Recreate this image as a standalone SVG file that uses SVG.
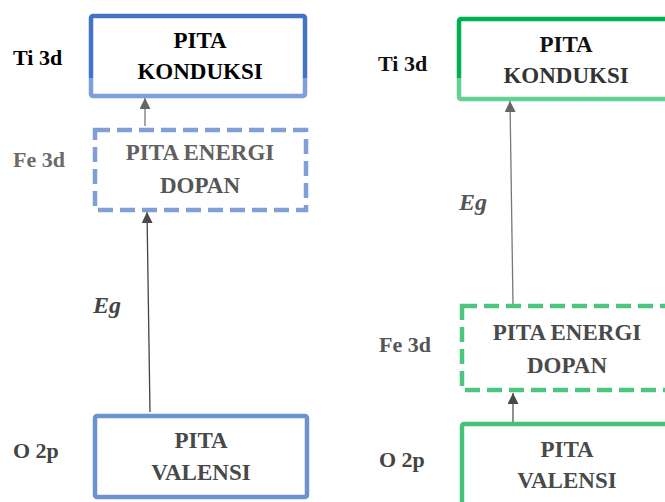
<svg xmlns="http://www.w3.org/2000/svg" width="665" height="502" viewBox="0 0 665 502">
<style>
.t{font-family:'Liberation Serif',serif;font-weight:bold;font-size:23px;text-anchor:middle}
.l{font-family:'Liberation Serif',serif;font-weight:bold;font-size:22px}
.eg{font-family:'Liberation Serif',serif;font-weight:bold;font-style:italic;font-size:24px}
.box{fill:none;stroke-width:4.5}
.dash{fill:none;stroke-width:4.5;stroke-dasharray:15 7}
.c{fill:none;stroke-width:1.3}
</style>
<defs>
<linearGradient id="gb" gradientUnits="userSpaceOnUse" x1="0" y1="14" x2="0" y2="98">
<stop offset="0.76" stop-color="#4472c4"/><stop offset="0.76" stop-color="#7e9fd9"/>
</linearGradient>
<linearGradient id="gg" gradientUnits="userSpaceOnUse" x1="0" y1="17" x2="0" y2="101">
<stop offset="0.73" stop-color="#00b050"/><stop offset="0.73" stop-color="#66cf96"/>
</linearGradient>
<marker id="ah" markerUnits="userSpaceOnUse" markerWidth="12" markerHeight="12" refX="11" refY="5.5" orient="auto">
<path d="M0,0 L11,5.5 L0,11 Z" fill="#666"/>
</marker>
<marker id="ahd" markerUnits="userSpaceOnUse" markerWidth="12" markerHeight="12" refX="11" refY="5.5" orient="auto">
<path d="M0,0 L11,5.5 L0,11 Z" fill="#4a4a4a"/>
</marker>
</defs>
<rect width="665" height="502" fill="#ffffff"/>

<g id="connectors">
<line class="c" x1="145" y1="126" x2="145" y2="98" stroke="#777" marker-end="url(#ah)"/>
<line class="c" x1="150" y1="412" x2="147" y2="212" stroke="#444" marker-end="url(#ahd)"/>
<line class="c" x1="513" y1="304" x2="510" y2="101" stroke="#777" marker-end="url(#ah)"/>
<line class="c" x1="513" y1="422" x2="513" y2="393" stroke="#555" marker-end="url(#ahd)"/>
</g>

<g id="left-conduction">
<rect class="box" x="91" y="16" width="214" height="80" rx="2" stroke="url(#gb)"/>
<text class="t" font-family="Liberation Serif" style="font-family:'Liberation Serif',serif" x="200" y="48" fill="#000">PITA</text>
<text class="t" font-family="Liberation Serif" style="font-family:'Liberation Serif',serif" x="200" y="79" fill="#000">KONDUKSI</text>
</g>
<g id="left-dopan">
<rect class="dash" x="95" y="130" width="211" height="80" stroke="#7f9fd6"/>
<text class="t" font-family="Liberation Serif" style="font-family:'Liberation Serif',serif" x="200" y="160" fill="#606060">PITA ENERGI</text>
<text class="t" font-family="Liberation Serif" style="font-family:'Liberation Serif',serif" x="200" y="193" fill="#555">DOPAN</text>
</g>
<g id="left-valence">
<rect class="box" x="95" y="416" width="212" height="81" rx="2" stroke="#6d92cf"/>
<text class="t" font-family="Liberation Serif" style="font-family:'Liberation Serif',serif" x="201" y="448" fill="#484848">PITA</text>
<text class="t" font-family="Liberation Serif" style="font-family:'Liberation Serif',serif" x="201" y="480" fill="#484848">VALENSI</text>
</g>
<g id="left-labels">
<text class="l" font-family="Liberation Serif" style="font-family:'Liberation Serif',serif" x="13" y="65" fill="#000">Ti 3d</text>
<text class="l" font-family="Liberation Serif" style="font-family:'Liberation Serif',serif" x="13" y="167" fill="#6a6a6a">Fe 3d</text>
<text class="l" font-family="Liberation Serif" style="font-family:'Liberation Serif',serif" x="13" y="458" fill="#444">O 2p</text>
<text class="eg" font-family="Liberation Serif" style="font-family:'Liberation Serif',serif" x="93" y="313" fill="#444">Eg</text>
</g>

<g id="right-conduction">
<rect class="box" x="459" y="19" width="220" height="80" rx="2" stroke="url(#gg)"/>
<text class="t" font-family="Liberation Serif" style="font-family:'Liberation Serif',serif" x="566" y="52" fill="#111">PITA</text>
<text class="t" font-family="Liberation Serif" style="font-family:'Liberation Serif',serif" x="566" y="83" fill="#333">KONDUKSI</text>
</g>
<g id="right-dopan">
<rect class="dash" x="462" y="306" width="220" height="84" stroke="#4cc57f"/>
<text class="t" font-family="Liberation Serif" style="font-family:'Liberation Serif',serif" x="567" y="340" fill="#4a4a4a">PITA ENERGI</text>
<text class="t" font-family="Liberation Serif" style="font-family:'Liberation Serif',serif" x="567" y="373" fill="#4a4a4a">DOPAN</text>
</g>
<g id="right-valence">
<rect class="box" x="462" y="424" width="220" height="90" rx="2" stroke="#45c278"/>
<text class="t" font-family="Liberation Serif" style="font-family:'Liberation Serif',serif" x="567" y="457" fill="#4a4a4a">PITA</text>
<text class="t" font-family="Liberation Serif" style="font-family:'Liberation Serif',serif" x="567" y="488" fill="#4a4a4a">VALENSI</text>
</g>
<g id="right-labels">
<text class="l" font-family="Liberation Serif" style="font-family:'Liberation Serif',serif" x="378" y="71" fill="#111">Ti 3d</text>
<text class="l" font-family="Liberation Serif" style="font-family:'Liberation Serif',serif" x="379" y="352" fill="#555">Fe 3d</text>
<text class="l" font-family="Liberation Serif" style="font-family:'Liberation Serif',serif" x="379" y="467" fill="#444">O 2p</text>
<text class="eg" font-family="Liberation Serif" style="font-family:'Liberation Serif',serif" x="459" y="210" fill="#555">Eg</text>
</g>
</svg>
